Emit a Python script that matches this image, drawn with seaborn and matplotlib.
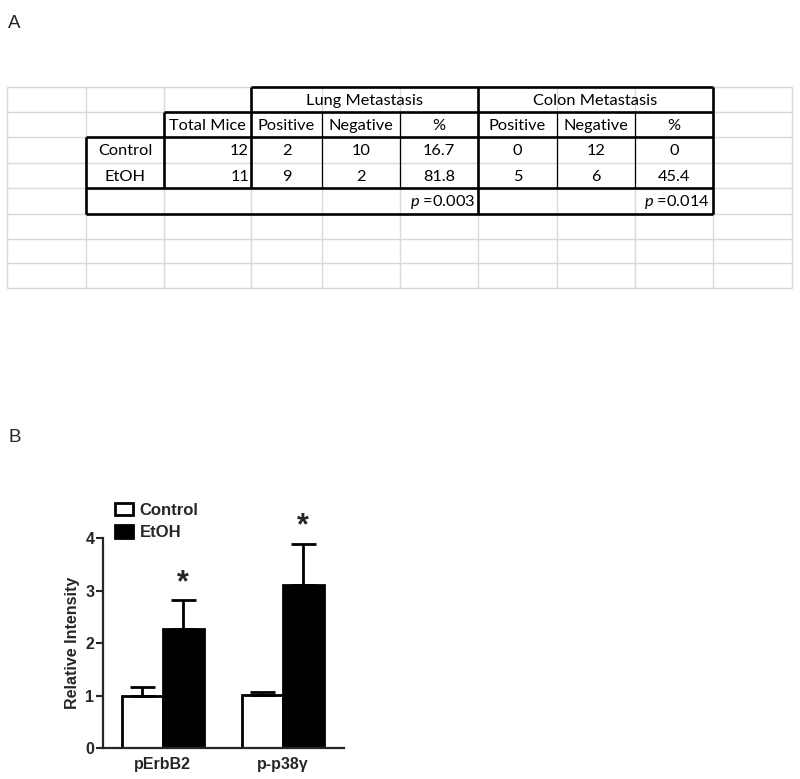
import pandas as pd
import matplotlib.pyplot as plt
import matplotlib.patches as mpatches
import seaborn as sns

# table values (panel A)
tbl_groups = ["Control", "EtOH"]
total_mice = [12, 11]
lung_pos = [2, 9]
lung_neg = [10, 2]
lung_pct = ["16.7", "81.8"]
colon_pos = [0, 5]
colon_neg = [12, 6]
colon_pct = ["0", "45.4"]
p_values = ["0.003", "0.014"]
sub_headers = ["Total Mice", "Positive", "Negative", "%", "Positive", "Negative", "%"]

# bar values (panel B)
targets = ["pErbB2", "p-p38\u03b3"]
groups = ["Control", "EtOH"]
control_mean = [1.0, 1.01]
control_sem = [0.17, 0.07]
etoh_mean = [2.28, 3.12]
etoh_sem = [0.54, 0.77]

sns.set_theme(style="ticks")
plt.rcParams["font.family"] = ["Liberation Sans", "DejaVu Sans"]
plt.rcParams["mathtext.fontset"] = "custom"
plt.rcParams["mathtext.it"] = "Lato:italic"
plt.rcParams["mathtext.rm"] = "Lato"

fig = plt.figure(figsize=(8.0, 7.79), dpi=100)

# ---- panel A: spreadsheet-like table, drawn in pixel space
tab = fig.add_axes([0, 0, 1, 1])
tab.set_xlim(0, 800)
tab.set_ylim(779, 0)
tab.axis("off")

cols = [7, 86, 164, 251, 322, 400, 478, 557, 635, 713, 792]
rows = [87, 112, 137, 163, 188, 214, 239, 263, 288]
grey = "#d9d9d9"
tab.hlines(rows, cols[0], cols[-1], color=grey, lw=1.0)
tab.vlines(cols, rows[0], rows[-1], color=grey, lw=1.0)

thick = 1.9
tab.hlines([87], 251, 713, color="black", lw=thick)
tab.hlines([112], 164, 713, color="black", lw=thick)
tab.hlines([137, 188, 214], 86, 713, color="black", lw=thick)
tab.vlines([251], 87, 188, color="black", lw=thick)
tab.vlines([478, 713], 87, 214, color="black", lw=thick)
tab.vlines([164], 112, 188, color="black", lw=thick)
tab.vlines([86], 137, 214, color="black", lw=thick)
tab.vlines([322, 400, 557, 635], 112, 188, color="black", lw=0.9)

tfont = dict(family=["Lato", "DejaVu Sans"], fontsize=11.8, color="black")


def cell_mid(r):
    return (rows[r] + rows[r + 1]) / 2 + 1


tab.text((cols[3] + cols[6]) / 2, cell_mid(0), "Lung Metastasis", ha="center", va="center", **tfont)
tab.text((cols[6] + cols[9]) / 2, cell_mid(0), "Colon Metastasis", ha="center", va="center", **tfont)
for j, h in enumerate(sub_headers):
    c = j + 2
    tab.text((cols[c] + cols[c + 1]) / 2, cell_mid(1), h, ha="center", va="center", **tfont)

for i, g in enumerate(tbl_groups):
    r = i + 2
    y = cell_mid(r)
    tab.text((cols[1] + cols[2]) / 2, y, g, ha="center", va="center", **tfont)
    tab.text(cols[3] - 2, y, str(total_mice[i]), ha="right", va="center", **tfont)
    vals = [lung_pos[i], lung_neg[i], lung_pct[i], colon_pos[i], colon_neg[i], colon_pct[i]]
    for j, v in enumerate(vals):
        c = j + 3
        tab.text((cols[c] + cols[c + 1]) / 2, y, str(v), ha="center", va="center", **tfont)

tab.text(cols[6] - 3, cell_mid(4), "$p$ =" + p_values[0], ha="right", va="center", **tfont)
tab.text(cols[9] - 3, cell_mid(4), "$p$ =" + p_values[1], ha="right", va="center", **tfont)

fig.text(8 / 800, 1 - 24 / 779, "A", fontsize=13.5, ha="left", va="center")
fig.text(8 / 800, 1 - 437 / 779, "B", fontsize=13.5, ha="left", va="center")

# ---- panel B: bar chart
df = pd.DataFrame({
    "target": targets * 2,
    "group": [groups[0]] * 2 + [groups[1]] * 2,
    "value": control_mean + etoh_mean,
})
sems = {groups[0]: control_sem, groups[1]: etoh_sem}

ax = fig.add_axes([102.7 / 800, 1 - 748.3 / 779, (344 - 102.7) / 800, 210 / 779])
sns.barplot(data=df, x="target", y="value", hue="group", hue_order=groups,
            palette=["white", "black"], edgecolor="black", linewidth=2,
            width=0.68, errorbar=None, legend=False, ax=ax)

for cont, g in zip(ax.containers, groups):
    xs = [p.get_x() + p.get_width() / 2 for p in cont.patches]
    ys = [p.get_height() for p in cont.patches]
    ax.errorbar(xs, ys, yerr=[[0] * len(ys), sems[g]], fmt="none", ecolor="black",
                elinewidth=2, capsize=9, capthick=2, zorder=1)
    if g == "EtOH":
        for x, y, e in zip(xs, ys, sems[g]):
            ax.text(x, y + e + 0.33, "*", ha="center", va="center", fontsize=22,
                    fontweight="bold", clip_on=False)

ax.set_xlim(-0.5, 1.51)
ax.set_ylim(0, 4)
ax.set_yticks([0, 1, 2, 3, 4])
ax.set_xlabel("")
ax.set_ylabel("Relative Intensity", fontsize=11.5, fontweight="bold", labelpad=4)
sns.despine(ax=ax)
ax.spines["left"].set_linewidth(1.6)
ax.spines["bottom"].set_linewidth(1.6)
ax.tick_params(axis="y", length=5, width=1.5, labelsize=11.5, pad=1)
ax.tick_params(axis="x", length=0, labelsize=11.5, pad=6)
for lab in ax.get_xticklabels() + ax.get_yticklabels():
    lab.set_fontweight("bold")

handles = [mpatches.Patch(facecolor="white", edgecolor="black", linewidth=2, label="Control"),
           mpatches.Patch(facecolor="black", edgecolor="black", linewidth=2, label="EtOH")]
leg = ax.legend(handles=handles, loc="lower left", bbox_to_anchor=(0.05, 0.99),
                frameon=False, borderpad=0, borderaxespad=0, handlelength=1.1,
                handleheight=0.75, handletextpad=0.4, labelspacing=0.45,
                prop=dict(size=12, weight="bold"))

fig.savefig("out.png", dpi=100, facecolor="white")
